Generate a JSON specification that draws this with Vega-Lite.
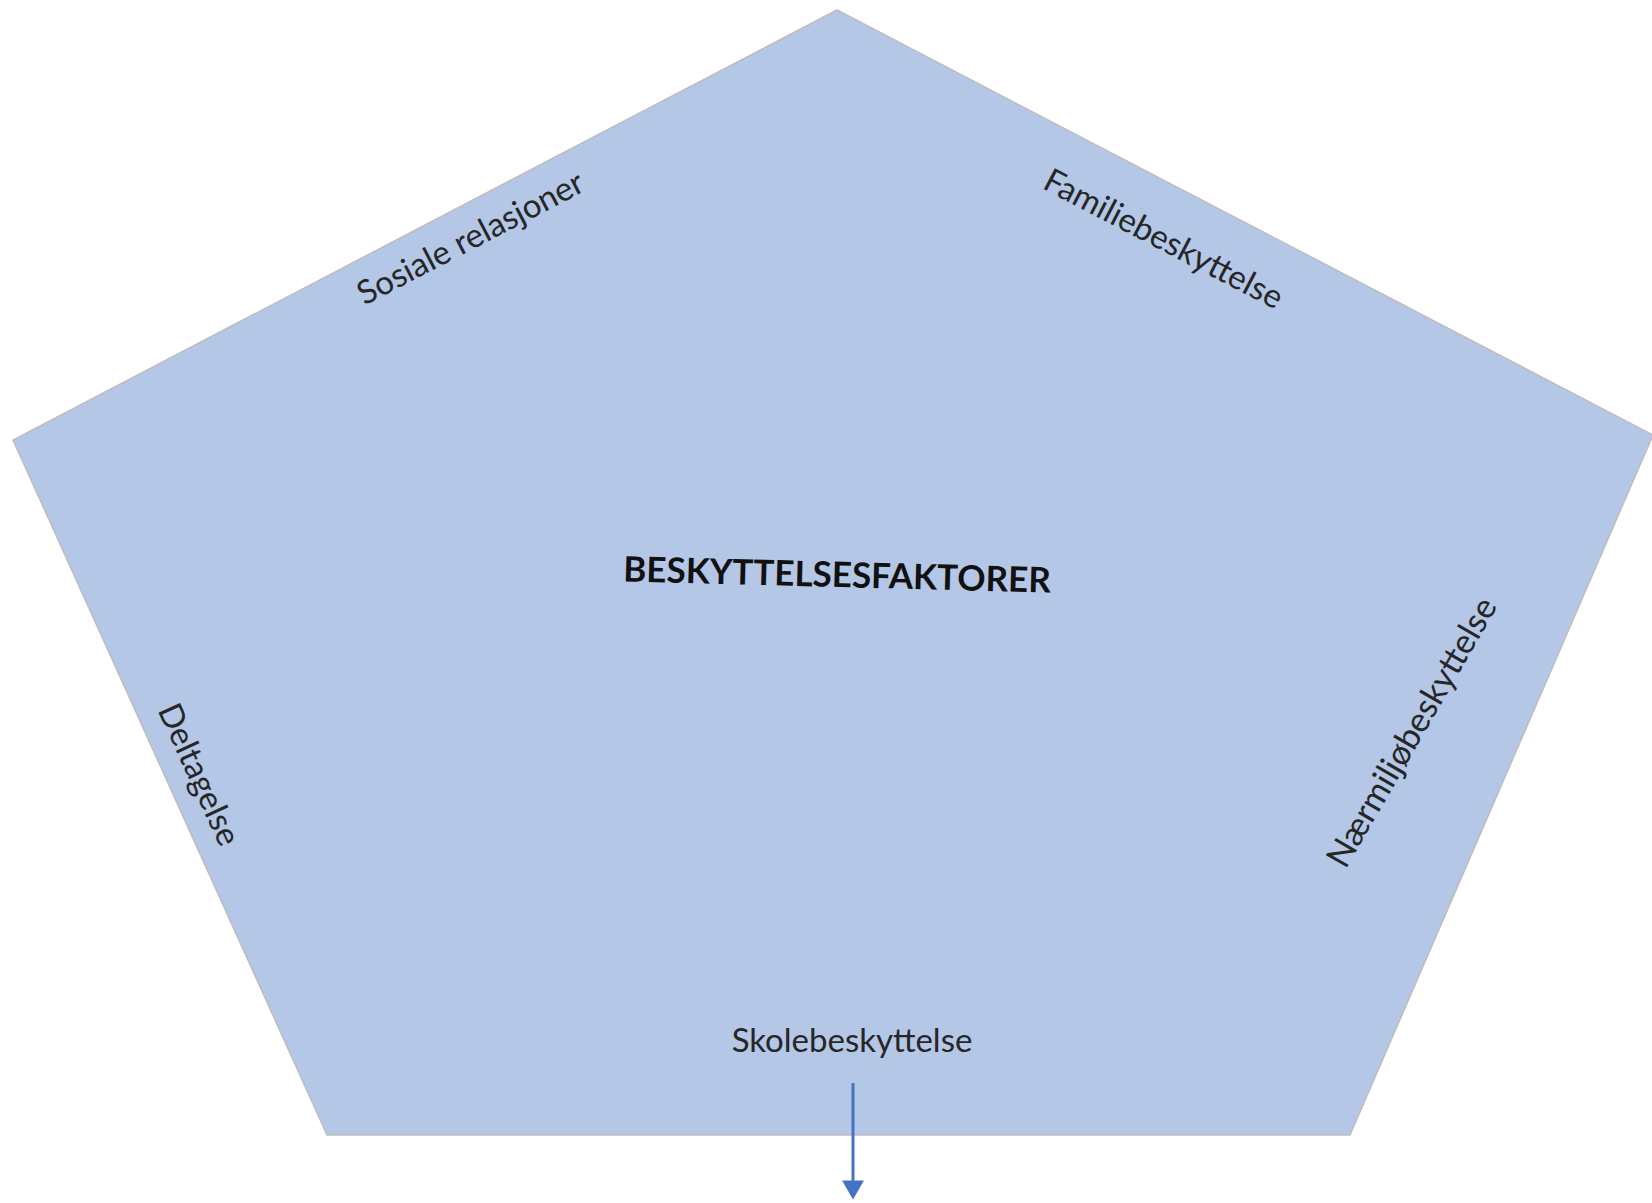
{
  "$schema": "https://vega.github.io/schema/vega-lite/v6.json",
  "width": 1652,
  "height": 1203,
  "padding": 0,
  "autosize": "none",
  "background": "white",
  "config": {"view": {"stroke": null}, "text": {"font": "Lato", "fontSize": 33, "color": "#262626", "align": "center", "baseline": "middle"}},
  "datasets": {
    "pentagon": [
      {"i": 1, "x": 837, "y": 10},
      {"i": 2, "x": 1653, "y": 435},
      {"i": 3, "x": 1350, "y": 1135},
      {"i": 4, "x": 327, "y": 1135},
      {"i": 5, "x": 13, "y": 440},
      {"i": 6, "x": 837, "y": 10}
    ],
    "labels": [
      {"label": "Sosiale relasjoner", "x": 471, "y": 239},
      {"label": "Familiebeskyttelse", "x": 1163, "y": 240},
      {"label": "Nærmiljøbeskyttelse", "x": 1413, "y": 733},
      {"label": "Deltagelse", "x": 198, "y": 775},
      {"label": "Skolebeskyttelse", "x": 852, "y": 1042},
      {"label": "BESKYTTELSESFAKTORER", "x": 837, "y": 576}
    ],
    "arrow": [
      {"x": 853, "y": 1083, "y2": 1190}
    ]
  },
  "encoding": {
    "x": {"field": "x", "type": "quantitative", "scale": {"domain": [0, 1652], "nice": false, "zero": false}, "axis": null},
    "y": {"field": "y", "type": "quantitative", "scale": {"domain": [0, 1203], "nice": false, "zero": false, "reverse": true}, "axis": null}
  },
  "layer": [
    {
      "data": {"name": "pentagon"},
      "mark": {"type": "line", "fill": "#B4C7E7", "stroke": "#BDBDBD", "strokeWidth": 1.5, "strokeJoin": "miter"},
      "encoding": {
        "order": {"field": "i", "type": "quantitative"}
      }
    },
    {
      "data": {"name": "labels"},
      "transform": [{"filter": "datum.label === 'Sosiale relasjoner'"}],
      "mark": {"type": "text", "angle": 332.5},
      "encoding": {"text": {"field": "label"}}
    },
    {
      "data": {"name": "labels"},
      "transform": [{"filter": "datum.label === 'Familiebeskyttelse'"}],
      "mark": {"type": "text", "angle": 27.5},
      "encoding": {"text": {"field": "label"}}
    },
    {
      "data": {"name": "labels"},
      "transform": [{"filter": "datum.label === 'Nærmiljøbeskyttelse'"}],
      "mark": {"type": "text", "angle": 300, "fontSize": 34},
      "encoding": {"text": {"field": "label"}}
    },
    {
      "data": {"name": "labels"},
      "transform": [{"filter": "datum.label === 'Deltagelse'"}],
      "mark": {"type": "text", "angle": 65.5},
      "encoding": {"text": {"field": "label"}}
    },
    {
      "data": {"name": "labels"},
      "transform": [{"filter": "datum.label === 'Skolebeskyttelse'"}],
      "mark": {"type": "text", "angle": 0},
      "encoding": {"text": {"field": "label"}}
    },
    {
      "data": {"name": "labels"},
      "transform": [{"filter": "datum.label === 'BESKYTTELSESFAKTORER'"}],
      "mark": {"type": "text", "fontSize": 35, "fontWeight": "bold", "color": "#111111", "angle": 1.5},
      "encoding": {"text": {"field": "label"}}
    },
    {
      "data": {"name": "arrow"},
      "mark": {"type": "rule", "color": "#4472C4", "strokeWidth": 3},
      "encoding": {
        "y2": {"field": "y2"}
      }
    },
    {
      "data": {"name": "arrow"},
      "mark": {"type": "point", "shape": "triangle-down", "filled": true, "color": "#4472C4", "size": 480, "opacity": 1},
      "encoding": {
        "y": {"field": "y2", "type": "quantitative"}
      }
    }
  ]
}
